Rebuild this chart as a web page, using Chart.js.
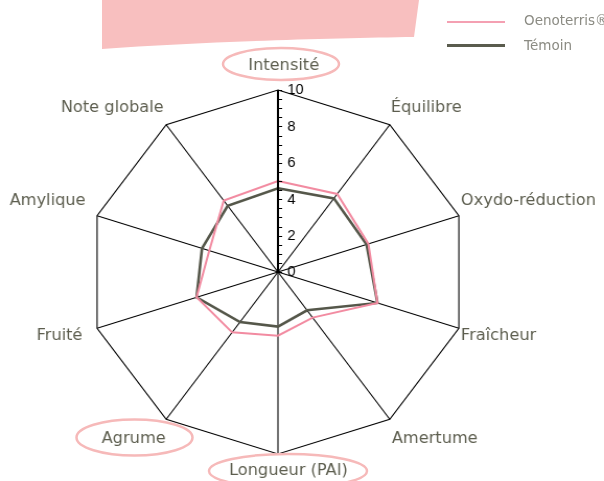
<!DOCTYPE html>
<html><head><meta charset="utf-8">
<script src="https://cdn.jsdelivr.net/npm/chart.js@4/dist/chart.umd.min.js"></script>
<style>
html,body{margin:0;padding:0;background:#fff;overflow:hidden}
#wrap{position:absolute;left:0;top:0;width:604px;height:481px;overflow:hidden}
#stretch{position:absolute;left:0;top:0;width:578px;height:481px;transform:scaleX(1.045);transform-origin:0 0}
svg{position:absolute;left:0;top:0}
.legtxt{position:absolute;left:524px;height:16px;line-height:16px;font-family:"DejaVu Sans",sans-serif;font-size:13.5px;color:#8b8b83;white-space:nowrap}
.legline{position:absolute;left:447px;width:58px}
</style></head><body>
<div id="wrap">
<svg width="604" height="481"><path d="M102,0 L419,0 L414,37 C330,38 200,42 102,49 Z" fill="#f8bfbf"/></svg>
<div id="stretch"><canvas id="c" width="578" height="481"></canvas></div>
<svg width="604" height="481">
<ellipse cx="281" cy="64" rx="58" ry="16" fill="none" stroke="#f6b9b9" stroke-width="2.5"/>
<ellipse cx="134.5" cy="437.5" rx="58" ry="18" fill="none" stroke="#f6b9b9" stroke-width="2.5"/>
<ellipse cx="288" cy="471" rx="79" ry="17" fill="none" stroke="#f6b9b9" stroke-width="2.5"/>
</svg>
<div class="legline" style="top:21px;height:2px;background:#f4a0b2"></div>
<div class="legline" style="top:44px;height:3px;background:#5a5c4e"></div>
<div class="legtxt" id="leg0" style="top:12px"></div>
<div class="legtxt" id="leg1" style="top:37px"></div>
</div>
<script>
const categories = ['Intensité','Équilibre','Oxydo-réduction','Fraîcheur','Amertume','Longueur (PAI)','Agrume','Fruité','Amylique','Note globale'];
const seriesNames = ['Oenoterris®','Témoin'];
const oenoterris = [5.0, 5.3, 5.0, 5.5, 3.1, 3.5, 4.1, 4.5, 3.8, 4.85];
const temoin = [4.6, 5.0, 4.9, 5.5, 2.6, 3.0, 3.4, 4.5, 4.2, 4.5];
const tickValues = [0, 2, 4, 6, 8, 10];

document.getElementById('leg0').textContent = seriesNames[0];
document.getElementById('leg1').textContent = seriesNames[1];

// label placement relative to each outer vertex: [dx, dy, align]
const labelStyle = [
  [5.5, -24.5, 'center'], [1, -16.3, 'left'], [2, -15, 'left'], [2, 7.8, 'left'], [2, 19.5, 'left'],
  [10, 17, 'center'], [-0.5, 19.5, 'right'], [-14, 7.8, 'right'], [-11, -15, 'right'], [-2.4, -16.3, 'right']
];

const decorPlugin = {
  id: 'decor',
  afterDatasetsDraw(chart) {
    const s = chart.scales.r;
    const ctx = chart.ctx;
    const outer = s.getDistanceFromCenterForValue(10);
    const top = s.getPointPosition(0, outer);
    ctx.save();
    ctx.strokeStyle = '#000';
    ctx.lineWidth = 2;
    ctx.beginPath();
    ctx.moveTo(s.xCenter, s.yCenter);
    ctx.lineTo(top.x, top.y);
    ctx.stroke();
    ctx.lineWidth = 1;
    s.ticks.forEach(t => {
      const p = s.getPointPosition(0, s.getDistanceFromCenterForValue(t.value));
      ctx.beginPath();
      ctx.moveTo(p.x, Math.round(p.y) + 0.5);
      ctx.lineTo(p.x + 4, Math.round(p.y) + 0.5);
      ctx.stroke();
    });
    ctx.fillStyle = '#000';
    ctx.font = '14px "Liberation Sans", Arial, sans-serif';
    ctx.textAlign = 'left';
    ctx.textBaseline = 'middle';
    tickValues.forEach(v => {
      const p = s.getPointPosition(0, s.getDistanceFromCenterForValue(v));
      ctx.fillText(String(v), p.x + 9, p.y + 0.5);
    });
    ctx.fillStyle = '#5d5e4f';
    ctx.font = '15.5px "DejaVu Sans", sans-serif';
    chart.data.labels.forEach((lab, i) => {
      const p = s.getPointPosition(i, outer);
      const st = labelStyle[i];
      ctx.textAlign = st[2];
      ctx.fillText(lab, p.x + st[0], p.y + st[1]);
    });
    ctx.restore();
  }
};

new Chart(document.getElementById('c'), {
  type: 'radar',
  data: {
    labels: categories,
    datasets: [
      { label: seriesNames[0], data: oenoterris, borderColor: '#f28ba1', backgroundColor: 'rgba(0,0,0,0)', borderWidth: 2, fill: false, pointRadius: 0, pointHoverRadius: 0 },
      { label: seriesNames[1], data: temoin, borderColor: '#55574a', backgroundColor: 'rgba(0,0,0,0)', borderWidth: 2.6, fill: false, pointRadius: 0, pointHoverRadius: 0 }
    ]
  },
  options: {
    responsive: false,
    animation: false,
    devicePixelRatio: 1,
    layout: { padding: { left: 84, right: 130, top: 90, bottom: 27 } },
    plugins: { legend: { display: false }, tooltip: { enabled: false } },
    scales: {
      r: {
        min: 0, max: 10,
        ticks: { display: false, stepSize: 0.5 },
        pointLabels: { display: false },
        grid: { color: c => (c.tick && c.tick.value === 10) ? '#000' : 'rgba(0,0,0,0)', lineWidth: 1.1 },
        angleLines: { color: '#000', lineWidth: 1.1 }
      }
    }
  },
  plugins: [decorPlugin]
});
</script>
</body></html>
